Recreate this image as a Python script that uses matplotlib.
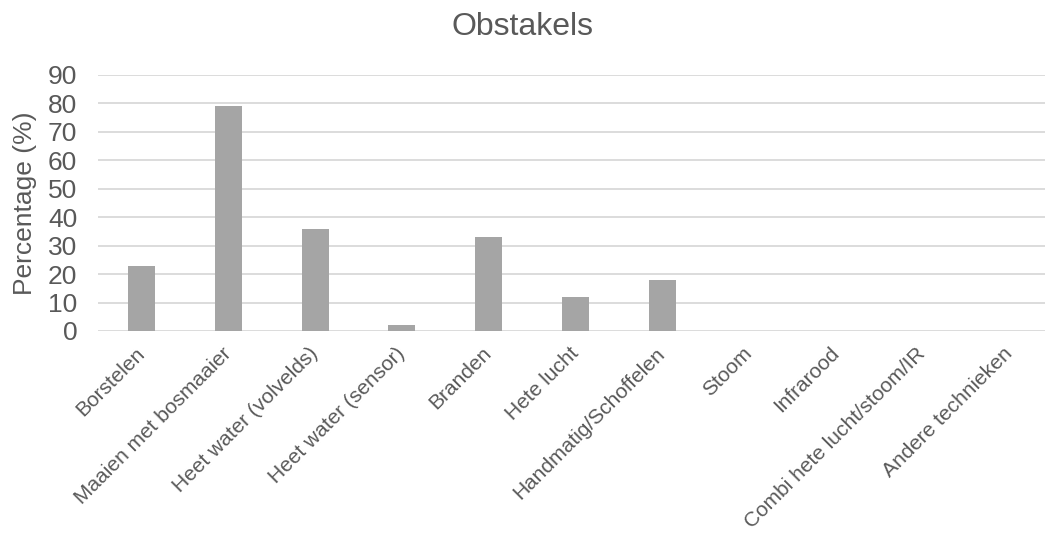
import matplotlib
matplotlib.use("Agg")
import matplotlib.pyplot as plt
import numpy as np

plt.rcParams['font.family'] = ['Liberation Sans', 'DejaVu Sans']

categories = ["Borstelen", "Maaien met bosmaaier", "Heet water (volvelds)",
              "Heet water (sensor)", "Branden", "Hete lucht", "Handmatig/Schoffelen",
              "Stoom", "Infrarood", "Combi hete lucht/stoom/IR", "Andere technieken"]
values = [23, 79, 36, 2, 33, 12, 18, 0, 0, 0, 0]

txt = "#595959"
fig = plt.figure(figsize=(10.45, 5.33), dpi=100)
ax = fig.add_axes([98 / 1045, 1 - 331 / 533, 955 / 1045, 256 / 533])

x = np.arange(len(categories))
ax.bar(x, values, width=0.31, color="#A5A5A5", zorder=3)

ax.set_xlim(-0.5, len(categories) - 0.5)
ax.set_ylim(0, 90)
ax.set_yticks(range(0, 91, 10))
ax.grid(axis='y', color="#D9D9D9", linewidth=1.3, zorder=0)
for s in ax.spines.values():
    s.set_visible(False)
ax.tick_params(axis='both', length=0, colors=txt)
ax.tick_params(axis='y', labelsize=19, pad=15)
ax.set_xticks(x)
ax.set_xticklabels(categories, rotation=45, ha='right', va='center',
                   rotation_mode='anchor', fontsize=15, color=txt)
ax.tick_params(axis='x', pad=14)
ax.set_ylabel("Percentage (%)", fontsize=19, color=txt, labelpad=8)

fig.text(0.5, 0.95, "Obstakels", ha='center', va='center', fontsize=23, color=txt)

fig.savefig("out.png", dpi=100)
